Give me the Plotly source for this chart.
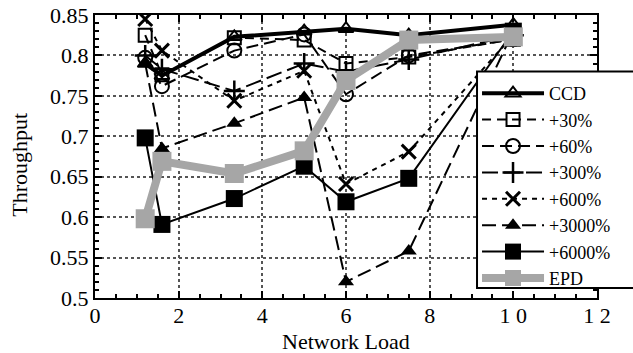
import plotly.graph_objects as go

loads = [1.2, 1.6, 3.33, 5.0, 6.0, 7.5, 10.0]

ccd      = [0.790, 0.775, 0.823, 0.830, 0.833, 0.825, 0.838]
p30      = [0.825, 0.776, 0.822, 0.819, 0.790, 0.798, 0.820]
p60      = [0.797, 0.762, 0.806, 0.826, 0.752, 0.800, 0.820]
p300     = [0.800, 0.783, 0.756, 0.790, 0.780, 0.795, 0.825]
p600     = [0.845, 0.806, 0.744, 0.781, 0.641, 0.681, 0.825]
p3000    = [0.790, 0.685, 0.716, 0.748, 0.520, 0.558, 0.830]
p6000    = [0.698, 0.591, 0.623, 0.663, 0.619, 0.648, 0.830]
epd      = [0.598, 0.669, 0.654, 0.682, 0.769, 0.819, 0.823]

x_ticks = [0, 2, 4, 6, 8, 10, 12]
x_tick_labels = ["0", "2", "4", "6", "8", "1 0", "1 2"]
y_ticks = [0.5, 0.55, 0.6, 0.65, 0.7, 0.75, 0.8, 0.85]
y_tick_labels = ["0.5", "0.55", "0.6", "0.65", "0.7", "0.75", "0.8", "0.85"]

x_title = "Network Load"
y_title = "Throughput"

FONT = "Liberation Serif"

series = [
    ("CCD", ccd, dict(color="black", width=4, dash="solid"),
     dict(symbol="triangle-up-open", size=13, color="black", line=dict(width=2, color="black"))),
    ("+30%", p30, dict(color="black", width=2, dash="9px,6px"),
     dict(symbol="square-open", size=13, color="black", line=dict(width=2, color="black"))),
    ("+60%", p60, dict(color="black", width=2, dash="12px,6px"),
     dict(symbol="circle-open", size=14, color="black", line=dict(width=2, color="black"))),
    ("+300%", p300, dict(color="black", width=2, dash="16px,6px"),
     dict(symbol="cross-thin-open", size=15, color="black", line=dict(width=2.5, color="black"))),
    ("+600%", p600, dict(color="black", width=2, dash="5px,5px"),
     dict(symbol="x-thin-open", size=14, color="black", line=dict(width=3, color="black"))),
    ("+3000%", p3000, dict(color="black", width=2, dash="14px,6px"),
     dict(symbol="triangle-up", size=14, color="black", line=dict(width=0, color="black"))),
    ("+6000%", p6000, dict(color="black", width=2, dash="solid"),
     dict(symbol="square", size=17, color="black", line=dict(width=0, color="black"))),
    ("EPD", epd, dict(color="#a6a6a6", width=8, dash="solid"),
     dict(symbol="square", size=19, color="#a6a6a6", line=dict(width=0, color="#a6a6a6"))),
]

fig = go.Figure()
for name, ys, ln, mk in series:
    fig.add_trace(go.Scatter(x=loads, y=ys, name=name, mode="lines+markers",
                             line=ln, marker=mk))

axis_common = dict(
    showline=True, linecolor="black", linewidth=2, mirror="allticks",
    ticks="inside", ticklen=7, tickwidth=2, tickcolor="black",
    showgrid=True, gridcolor="#555555", gridwidth=2, griddash="dot",
    zeroline=False, automargin=False,
    tickfont=dict(family=FONT, size=22, color="black"),
)

fig.update_xaxes(
    range=[0, 12], tickvals=x_ticks, ticktext=x_tick_labels,
    ticklabelstandoff=-3,
    minor=dict(dtick=0.5, ticks="inside", ticklen=4, tickwidth=2, tickcolor="black", showgrid=False),
    **axis_common,
)
fig.update_yaxes(
    range=[0.5, 0.85], tickvals=y_ticks, ticktext=y_tick_labels,
    minor=dict(dtick=0.01, ticks="inside", ticklen=4, tickwidth=2, tickcolor="black", showgrid=False),
    **axis_common,
)

# axis titles placed as annotations in paper coordinates
fig.add_annotation(text=x_title, xref="paper", yref="paper", x=0.5, y=-0.155,
                   xanchor="center", yanchor="middle", showarrow=False,
                   font=dict(family=FONT, size=22, color="black"))
fig.add_annotation(text=y_title, xref="paper", yref="paper", x=-0.15, y=0.47,
                   xanchor="center", yanchor="middle", showarrow=False, textangle=-90,
                   font=dict(family=FONT, size=22, color="black"))

# legend frame (extends to the right edge of the figure, as in the reference)
fig.add_shape(type="rect", xref="paper", yref="paper", x0=0.761, x1=1.09, y0=0.035, y1=0.8,
              fillcolor="white", line=dict(color="black", width=2), layer="above")

fig.update_layout(
    width=633, height=353,
    margin=dict(l=95, r=36, t=15, b=55),
    paper_bgcolor="white", plot_bgcolor="white",
    font=dict(family=FONT, size=22, color="black"),
    legend=dict(
        x=0.761, y=0.788, xanchor="left", yanchor="top",
        bgcolor="rgba(0,0,0,0)", borderwidth=0,
        font=dict(family=FONT, size=18, color="black"),
        itemwidth=62, tracegroupgap=0,
    ),
    showlegend=True,
)

fig.write_html("out.html")
